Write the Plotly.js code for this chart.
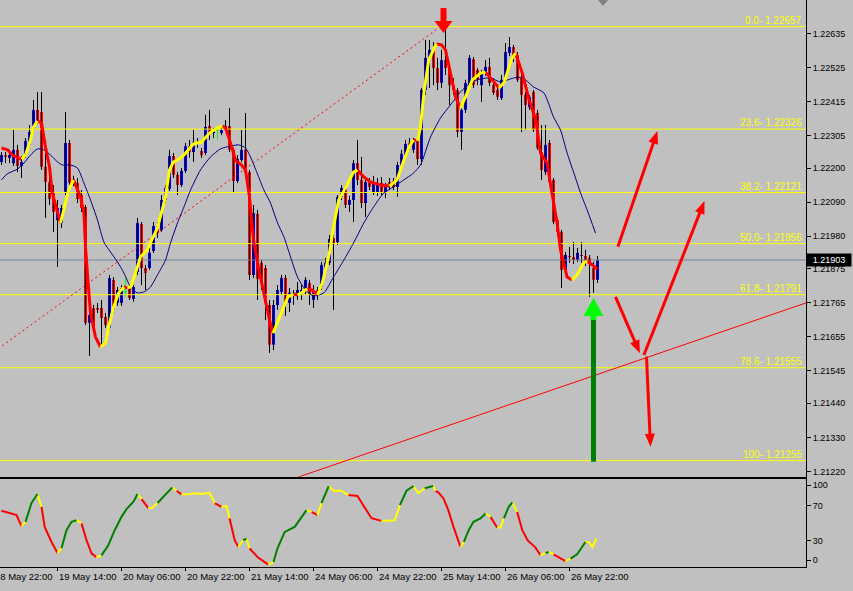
<!DOCTYPE html>
<html>
<head>
<meta charset="utf-8">
<script src="https://cdn.plot.ly/plotly-3.0.1.min.js"></script>
<style>
html,body{margin:0;padding:0;background:#c0c0c0;overflow:hidden;}
#chart{width:853px;height:591px;}
</style>
</head>
<body>
<div id="chart"></div>
<script>
// ---------- H1 candles (bar index 0 = 19 May 00:00) ----------
const open = [
1.22220,1.22242,1.22233,1.22216,1.22259,1.22207,1.22239,1.22275,1.22323,1.22388,
1.22381,1.22204,1.22155,1.22123,1.22032,1.22023,1.22123,1.22281,1.22165,1.22152,
1.22113,1.22074,1.21700,1.21748,1.21748,1.21748,1.21719,1.21684,1.21839,1.21764,
1.21764,1.21800,1.21813,1.21777,1.21864,1.22019,1.21877,1.21877,1.21932,1.22013,
1.22000,1.22097,1.22132,1.22239,1.22178,1.22145,1.22191,1.22271,1.22252,1.22284,
1.22255,1.22249,1.22336,1.22313,1.22323,1.22313,1.22330,1.22336,1.22259,1.22158,
1.22226,1.22259,1.22187,1.21855,1.22052,1.21894,1.21877,1.21758,1.21629,1.21758,
1.21800,1.21845,1.21764,1.21793,1.21793,1.21790,1.21806,1.21829,1.21774,1.21806,
1.21816,1.21871,1.21894,1.21974,1.21961,1.22107,1.22136,1.22081,1.22097,1.22216,
1.22162,1.22087,1.22155,1.22123,1.22123,1.22152,1.22120,1.22155,1.22158,1.22139,
1.22210,1.22242,1.22281,1.22259,1.22291,1.22229,1.22452,1.22556,1.22582,1.22523,
1.22475,1.22549,1.22523,1.22468,1.22452,1.22317,1.22388,1.22468,1.22552,1.22517,
1.22468,1.22507,1.22527,1.22468,1.22452,1.22426,1.22491,1.22572,1.22591,1.22565,
1.22491,1.22436,1.22397,1.22446,1.22378,1.22252,1.22187,1.22281,1.22162,1.22032,
1.21994,1.21871,1.21916,1.21913,1.21903,1.21919,1.21916,1.21910,1.21877,1.21839];
const high = [
1.22252,1.22252,1.22259,1.22323,1.22275,1.22239,1.22297,1.22339,1.22420,1.22446,
1.22446,1.22259,1.22178,1.22145,1.22097,1.22081,1.22381,1.22291,1.22175,1.22168,
1.22129,1.22081,1.21758,1.21758,1.21764,1.21774,1.21732,1.21855,1.21848,1.21816,
1.21822,1.21845,1.21822,1.21822,1.22039,1.22026,1.21887,1.21942,1.22026,1.22026,
1.22113,1.22145,1.22259,1.22249,1.22187,1.22200,1.22281,1.22291,1.22323,1.22297,
1.22265,1.22372,1.22388,1.22330,1.22333,1.22336,1.22355,1.22394,1.22265,1.22242,
1.22323,1.22378,1.22194,1.22081,1.22065,1.21903,1.21887,1.21774,1.21774,1.21822,
1.21855,1.21855,1.21813,1.21806,1.21832,1.21822,1.21848,1.21839,1.21822,1.21816,
1.21897,1.21910,1.21984,1.21994,1.22113,1.22145,1.22145,1.22110,1.22226,1.22291,
1.22236,1.22168,1.22168,1.22175,1.22168,1.22171,1.22152,1.22168,1.22168,1.22220,
1.22259,1.22291,1.22297,1.22297,1.22297,1.22459,1.22614,1.22614,1.22607,1.22556,
1.22582,1.22656,1.22533,1.22491,1.22459,1.22404,1.22485,1.22565,1.22559,1.22523,
1.22517,1.22549,1.22556,1.22491,1.22462,1.22501,1.22604,1.22623,1.22598,1.22575,
1.22501,1.22446,1.22436,1.22452,1.22388,1.22339,1.22339,1.22291,1.22168,1.22039,
1.22000,1.21929,1.21945,1.21961,1.21942,1.21961,1.21936,1.21919,1.21897,1.21916];
const low = [
1.22210,1.22216,1.22216,1.22207,1.22187,1.22168,1.22233,1.22268,1.22317,1.22343,
1.22194,1.22039,1.22081,1.21994,1.21881,1.22007,1.22113,1.22145,1.22142,1.22087,
1.22058,1.21693,1.21593,1.21677,1.21732,1.21622,1.21684,1.21677,1.21732,1.21755,
1.21755,1.21784,1.21774,1.21768,1.21855,1.21822,1.21806,1.21871,1.21926,1.21974,
1.21994,1.22087,1.22126,1.22168,1.22113,1.22139,1.22184,1.22233,1.22220,1.22265,
1.22233,1.22242,1.22291,1.22297,1.22291,1.22307,1.22320,1.22252,1.22123,1.22152,
1.22220,1.22178,1.21839,1.21845,1.21774,1.21806,1.21709,1.21603,1.21612,1.21742,
1.21790,1.21722,1.21735,1.21758,1.21774,1.21774,1.21790,1.21758,1.21748,1.21774,
1.21806,1.21864,1.21887,1.21742,1.21952,1.22097,1.22071,1.22058,1.22026,1.22145,
1.22071,1.22042,1.22129,1.22113,1.22110,1.22113,1.22103,1.22129,1.22129,1.22107,
1.22204,1.22236,1.22259,1.22249,1.22210,1.22210,1.22436,1.22459,1.22468,1.22452,
1.22459,1.22501,1.22404,1.22436,1.22300,1.22259,1.22378,1.22459,1.22459,1.22468,
1.22414,1.22498,1.22465,1.22436,1.22420,1.22420,1.22485,1.22562,1.22543,1.22478,
1.22317,1.22323,1.22388,1.22317,1.22259,1.22162,1.22178,1.22149,1.22019,1.21981,
1.21813,1.21855,1.21894,1.21890,1.21897,1.21894,1.21884,1.21784,1.21797,1.21829];
const close = [
1.22242,1.22236,1.22242,1.22259,1.22207,1.22220,1.22288,1.22317,1.22388,1.22352,
1.22204,1.22155,1.22100,1.22058,1.22071,1.22071,1.22281,1.22152,1.22152,1.22100,
1.22071,1.21700,1.21725,1.21687,1.21742,1.21716,1.21693,1.21845,1.21742,1.21806,
1.21813,1.21800,1.21780,1.21816,1.22023,1.21877,1.21861,1.21926,1.22013,1.21990,
1.22097,1.22136,1.22239,1.22178,1.22145,1.22191,1.22271,1.22252,1.22284,1.22278,
1.22242,1.22333,1.22313,1.22320,1.22323,1.22323,1.22336,1.22259,1.22158,1.22229,
1.22259,1.22187,1.21855,1.22055,1.21842,1.21829,1.21764,1.21629,1.21758,1.21806,
1.21845,1.21764,1.21797,1.21797,1.21806,1.21806,1.21839,1.21790,1.21800,1.21790,
1.21887,1.21894,1.21971,1.21958,1.22107,1.22136,1.22081,1.22097,1.22216,1.22162,
1.22087,1.22155,1.22139,1.22155,1.22152,1.22123,1.22139,1.22139,1.22139,1.22210,
1.22246,1.22278,1.22268,1.22284,1.22229,1.22452,1.22556,1.22582,1.22523,1.22475,
1.22549,1.22523,1.22468,1.22452,1.22317,1.22388,1.22475,1.22556,1.22468,1.22485,
1.22507,1.22527,1.22475,1.22443,1.22430,1.22485,1.22575,1.22591,1.22559,1.22485,
1.22436,1.22404,1.22430,1.22323,1.22265,1.22194,1.22275,1.22155,1.22026,1.21994,
1.21871,1.21919,1.21913,1.21903,1.21926,1.21916,1.21897,1.21894,1.21839,1.21903];

// ---------- fast smoothed MA (yellow up / red down) ----------
const maX = [
0,1.5,3,5,6,7.25,8,9,10,11,
12,12.7,13.75,14.75,15.75,16.8,18,19.75,20.6,21,
21.6,22.25,23.5,24.75,26,26.8,28,29.3,30.6,31.5,
32.25,33.5,34.75,36.4,37.25,39,41,42,43,44,
45.6,48,50,52,54,55.2,56,57.25,58.5,60,
61,62,63,64,65,66,67,67.9,69,70.5,
71.6,73,74,75,76.4,77.7,79,80.2,82,83,
84.3,86,88,89,90.6,92.25,94.75,97,98.9,100.6,
101.9,103,104,104.75,105.6,106.8,108.3,108.75,110,111,
112,113.5,114.75,116,117.7,119.75,121,122.7,124.4,125.7,
127.4,128.5,130.2,131.9,133.6,134.75,136.4,137.6,138.9,139.75,
141.4,142.6,143.9,145.6,146.4,147.7,149];
const maY = [
1.22265,1.22259,1.22239,1.22229,1.22242,1.22291,1.22333,1.22352,1.22346,1.22268,
1.22204,1.22120,1.22074,1.22023,1.22071,1.22129,1.22162,1.22107,1.22055,1.21945,
1.21839,1.21732,1.21654,1.21622,1.21635,1.21687,1.21751,1.21797,1.21816,1.21813,
1.21816,1.21861,1.21913,1.21936,1.21958,1.22007,1.22107,1.22194,1.22220,1.22226,
1.22242,1.22278,1.22284,1.22313,1.22330,1.22336,1.22330,1.22281,1.22226,1.22210,
1.22194,1.22107,1.21968,1.21894,1.21829,1.21764,1.21709,1.21667,1.21700,1.21751,
1.21784,1.21793,1.21790,1.21797,1.21810,1.21806,1.21790,1.21829,1.21926,1.22010,
1.22097,1.22136,1.22187,1.22194,1.22171,1.22155,1.22145,1.22142,1.22162,1.22226,
1.22268,1.22291,1.22288,1.22333,1.22443,1.22549,1.22591,1.22601,1.22598,1.22582,
1.22517,1.22430,1.22394,1.22430,1.22485,1.22507,1.22510,1.22485,1.22459,1.22478,
1.22549,1.22572,1.22507,1.22420,1.22355,1.22249,1.22216,1.22120,1.22023,1.21936,
1.21848,1.21839,1.21855,1.21894,1.21900,1.21887,1.21874];

// ---------- slow moving average (navy) ----------
const slowX = [
0,1.4,4,5.6,7.25,9,10.6,12.25,14,15.2,
17.25,19,20.6,22.25,24,25.6,27.25,29,30.6,32.25,
33.9,35.6,37.25,39,41,42.25,44,45.6,47.25,49.75,
52.25,54.75,57.25,59.3,61,62.25,63.9,65.6,67.25,69,
70.6,72.25,74,76,78,80.6,83,85.6,88,90.6,
93,95.6,98,100.6,103,104.75,107.25,109.75,112.25,114.75,
117.25,119.75,122.25,124.75,127.25,129.3,131,133,135.6,138,
139.75,141.4,143.1,144.75,146.4,148.5];
const slowY = [
1.22162,1.22181,1.22197,1.22216,1.22242,1.22262,1.22259,1.22242,1.22220,1.22210,
1.22210,1.22200,1.22152,1.22097,1.22032,1.21961,1.21929,1.21897,1.21861,1.21816,
1.21797,1.21800,1.21816,1.21855,1.21903,1.21958,1.22023,1.22074,1.22129,1.22194,
1.22236,1.22262,1.22271,1.22275,1.22265,1.22236,1.22184,1.22129,1.22087,1.22023,
1.21978,1.21913,1.21848,1.21806,1.21787,1.21797,1.21848,1.21903,1.21958,1.22023,
1.22074,1.22120,1.22139,1.22162,1.22184,1.22210,1.22300,1.22362,1.22404,1.22446,
1.22475,1.22488,1.22491,1.22478,1.22488,1.22494,1.22485,1.22462,1.22443,1.22365,
1.22323,1.22249,1.22184,1.22120,1.22065,1.21990];

// ---------- oscillator (0-100) ----------
const oscX = [
0,2.5,3.75,5,6,7.5,9,10,10.8,12.5,
14,15,16.25,17.5,18.75,20,21.25,22.5,23.75,25,
26.7,28.3,30,31.25,33,34,35,36.7,37.7,39,
40.8,42.7,43.75,45,46.7,48.3,50,52,53.3,55,
56.25,57,58.3,59.2,60.4,61.25,62,64,66.7,68,
69,70.8,73.3,76.25,77.5,79,80,81.8,83,85,
86.7,89,90.4,92.5,95,96.7,98.3,99.6,101.25,103,
104.2,105.8,107.9,108.5,109.3,110.5,111.7,113,113.9,114.75,
115.6,116.8,118,119.75,121,122.25,123.9,124.75,125.6,126.8,
127.7,128.9,130.2,131.5,133.5,134.75,136,136.8,138,139.75,
141,142.25,143.9,146,146.8,147.7,148.75];
const oscY = [
63.8,60.8,58.9,46.3,51.2,72.6,82.9,68.3,45.5,28.3,
15.8,21.1,41.7,51.2,53.1,49.7,30.3,15.4,10.9,13.1,
24.6,41.7,56.9,65.7,74.1,82.9,77.1,66.9,66.9,72.6,
81.7,90.5,86.6,82.5,82.5,83.7,82.9,84.3,72.6,68.3,
69.1,55.4,30.3,22.6,30.3,32.2,21.1,11.2,2.5,5.5,
21.1,39.8,45.5,64.6,62.6,58.9,72.6,92,86.6,86.6,
81.7,80.6,70.3,55.4,52.3,53.1,53.1,70.3,86.6,92,
83.7,89.4,92,86.6,84.3,77.9,64.6,45.5,34.1,22.6,
28.3,41.7,51.2,55.1,60.8,56.9,44.8,44.8,55.1,68.3,
73.4,62.6,41.7,30.3,21.9,13.1,15.8,16.9,14.3,9.4,
6.6,9.4,14.3,28.3,28.3,22.6,32.2];

// ---------- axis labels ----------
const priceTicks = [1.22635,1.22525,1.22415,1.22305,1.22200,1.22090,1.21980,1.21875,1.21765,1.21655,1.21545,1.21440,1.21330,1.21220];
const oscTickPos = [7.4,30,70,93];
const oscTickText = ['0','30','70','100'];
const timeTickBars = [-2,14,30,46,62,78,94,110,126,142];
const timeTickText = ['18 May 22:00','19 May 14:00','20 May 06:00','20 May 22:00','21 May 14:00','24 May 06:00','24 May 22:00','25 May 14:00','26 May 06:00','26 May 22:00'];

// ---------- drawn objects ----------
const fibLevels = ['0.0','23.6','38.2','50.0','61.8','78.6','100'];
const fibPrices = [1.22657,1.22326,1.22121,1.21956,1.21791,1.21555,1.21255];
const lastPrice = 1.21903;
const fibDiagX = [-39.2,109];
const fibDiagY = [1.21255,1.22650];
const trendX = [74,201.25];
const trendY = [1.21201,1.21765];
const arrowTails = [[154.1,1.21946],[160.6,1.21596],[153.5,1.21784],[161.25,1.21591]];
const arrowTips  = [[164,1.22320],[175.75,1.22094],[159.6,1.21602],[162.25,1.21300]];
const greenArrowX = 148.0;
const greenArrowBase = 1.21251;
const greenArrowTip = 1.21780;
const topArrowX = 110.5;
const topArrowTip = 1.22636;
const topArrowTail = 1.22717;

// ---------- geometry ----------
const xr = [-0.375, 201.125];
const yr = [1.21203, 1.22743];
const PW = 806, MH = 476.7, PH = 567;
const kx = PW/(xr[1]-xr[0]);
const ky = MH/(yr[1]-yr[0]);
const toPx = p => [(p[0]-xr[0])*kx, (yr[1]-p[1])*ky];
const toData = q => [q[0]/kx + xr[0], yr[1] - q[1]/ky];

function arrowParts(tail, tip, len, half, shaftFrac){
  const a = toPx(tail), b = toPx(tip);
  const dx=b[0]-a[0], dy=b[1]-a[1], L=Math.hypot(dx,dy);
  const ux=dx/L, uy=dy/L;
  const base=[b[0]-ux*len, b[1]-uy*len];
  const v1=[base[0]-uy*half, base[1]+ux*half];
  const v2=[base[0]+uy*half, base[1]-ux*half];
  const shaftEnd = toData([b[0]-ux*len*shaftFrac, b[1]-uy*len*shaftFrac]);
  const pts=[b,v1,v2].map(toData);
  return {shaftEnd, path:'M'+pts.map(p=>p[0]+','+p[1]).join(' L')+' Z'};
}

function colorRuns(xs, ys, colorOf){
  const groups = {};
  let cur = null, curC = null;
  const flush = () => { if(cur){ groups[curC] = groups[curC]||{x:[],y:[]}; groups[curC].x.push(...cur.x,null); groups[curC].y.push(...cur.y,null); } };
  for(let i=0;i<xs.length-1;i++){
    const c = colorOf(i);
    if(c !== curC){ flush(); cur = {x:[xs[i]], y:[ys[i]]}; curC = c; }
    cur.x.push(xs[i+1]); cur.y.push(ys[i+1]);
  }
  flush();
  return groups;
}

const FONT = 'Liberation Sans, Arial, sans-serif';
const traces = [];

// candles: wicks (black, dojis lime) then bodies
const idx = open.map((_, i) => i);
const normal = idx.filter(i => open[i] !== close[i]);
const doji = idx.filter(i => open[i] === close[i]);
const wx=[], wy=[];
normal.forEach(i => { wx.push(i, i, null); wy.push(low[i], high[i], null); });
traces.push({type:'scatter', mode:'lines', x:wx, y:wy, xaxis:'x', yaxis:'y', line:{color:'#000000', width:1}, hoverinfo:'skip'});
traces.push({type:'bar', x:normal, y:normal.map(i => Math.abs(close[i]-open[i])), base:normal.map(i => Math.min(open[i], close[i])),
  width:0.75, xaxis:'x', yaxis:'y', hoverinfo:'skip',
  marker:{color:normal.map(i => close[i] > open[i] ? '#0000ff' : '#ff0000'), line:{width:0}}});
const dx=[], dy=[];
doji.forEach(i => { dx.push(i, i, null, i-0.4, i+0.4, null); dy.push(low[i], high[i], null, open[i], open[i], null); });
traces.push({type:'scatter', mode:'lines', x:dx, y:dy, xaxis:'x', yaxis:'y', line:{color:'#00ff00', width:1}, hoverinfo:'skip'});

// fib horizontal lines, price line, fib diagonal
const fx=[], fy=[];
fibPrices.forEach(p => { fx.push(xr[0], xr[1], null); fy.push(p, p, null); });
traces.push({type:'scatter', mode:'lines', x:fx, y:fy, xaxis:'x', yaxis:'y', line:{color:'#ffff00', width:1}, hoverinfo:'skip'});
traces.push({type:'scatter', mode:'lines', x:xr, y:[lastPrice,lastPrice], xaxis:'x', yaxis:'y', line:{color:'#778899', width:1}, hoverinfo:'skip'});
traces.push({type:'scatter', mode:'lines', x:fibDiagX, y:fibDiagY, xaxis:'x', yaxis:'y', line:{color:'#ff0000', width:1, dash:'2px,3px'}, hoverinfo:'skip'});
// navy MA
traces.push({type:'scatter', mode:'lines', x:slowX, y:slowY, xaxis:'x', yaxis:'y', line:{color:'#000080', width:1, shape:'spline', smoothing:0.6}, hoverinfo:'skip'});
// fast MA colored
const maG = colorRuns(maX, maY, i => maY[i+1] > maY[i] ? '#ffff00' : '#ff0000');
Object.keys(maG).forEach(c => traces.push({type:'scatter', mode:'lines', x:maG[c].x, y:maG[c].y, xaxis:'x', yaxis:'y', line:{color:c, width:3}, hoverinfo:'skip'}));
// trendline
traces.push({type:'scatter', mode:'lines', x:trendX, y:trendY, xaxis:'x', yaxis:'y', line:{color:'#ff0000', width:1}, hoverinfo:'skip'});

// arrows
const shapes = [];
const sx=[], sy=[];
arrowTails.forEach((t, k) => {
  const ap = arrowParts(t, arrowTips[k], 13, 5, 0.6);
  sx.push(t[0], ap.shaftEnd[0], null); sy.push(t[1], ap.shaftEnd[1], null);
  shapes.push({type:'path', xref:'x', yref:'y', path:ap.path, fillcolor:'#ff0000', line:{width:0}, layer:'above'});
});
traces.push({type:'scatter', mode:'lines', x:sx, y:sy, xaxis:'x', yaxis:'y', line:{color:'#ff0000', width:3}, hoverinfo:'skip'});

// green arrow
const gHead = arrowParts([greenArrowX, greenArrowBase], [greenArrowX, greenArrowTip], 18, 10, 0.5);
const gTipPx = toPx([greenArrowX, greenArrowTip]);
const gTop = toData([gTipPx[0], gTipPx[1] + 22]);
const gNeck = toData([gTipPx[0], gTipPx[1] + 16]);
traces.push({type:'scatter', mode:'lines', x:[greenArrowX, greenArrowX], y:[greenArrowBase, gTop[1]], xaxis:'x', yaxis:'y', line:{color:'#008000', width:5}, hoverinfo:'skip'});
traces.push({type:'scatter', mode:'lines', x:[greenArrowX, greenArrowX], y:[gTop[1], gNeck[1]], xaxis:'x', yaxis:'y', line:{color:'#00ff00', width:6}, hoverinfo:'skip'});
shapes.push({type:'path', xref:'x', yref:'y', path:gHead.path, fillcolor:'#00ff00', line:{width:0}, layer:'above'});

// top red down arrow
const tHead = arrowParts([topArrowX, topArrowTail], [topArrowX, topArrowTip], 12, 9, 0.5);
traces.push({type:'scatter', mode:'lines', x:[topArrowX, topArrowX], y:[topArrowTail, tHead.shaftEnd[1]], xaxis:'x', yaxis:'y', line:{color:'#ff0000', width:6}, hoverinfo:'skip'});
shapes.push({type:'path', xref:'x', yref:'y', path:tHead.path, fillcolor:'#ff0000', line:{width:0}, layer:'above'});

// chart-shift marker
shapes.push({type:'path', xref:'paper', yref:'paper', path:`M${598/PW},1 L${608/PW},1 L${603/PW},${1-6/PH} Z`, fillcolor:'#808080', line:{width:0}});

// oscillator
const oscDir = oscX.slice(0,-1).map((_, i) => Math.sign(oscY[i+1]-oscY[i]));
const oscG = colorRuns(oscX, oscY, i => {
  const d = oscDir[i];
  if(d === 0 || (i > 0 && d !== oscDir[i-1])) return '#ffff00';
  return d > 0 ? '#008000' : '#ff0000';
});
Object.keys(oscG).forEach(c => traces.push({type:'scatter', mode:'lines', x:oscG[c].x, y:oscG[c].y, xaxis:'x2', yaxis:'y2', line:{color:c, width:2}, hoverinfo:'skip'}));

// annotations
const annotations = [];
fibLevels.forEach((lv, k) => annotations.push({xref:'paper', yref:'y', x:803/PW, y:fibPrices[k], xanchor:'right', yanchor:'bottom',
  text: lv + '- ' + fibPrices[k].toFixed(5), showarrow:false, borderpad:0, font:{family:FONT, size:10, color:'#ffff00'}}));
timeTickBars.forEach((b, k) => annotations.push({xref:'paper', yref:'paper', x:(b-xr[0])*kx/PW, y:-10/PH, xanchor:'left', yanchor:'middle',
  text: timeTickText[k], showarrow:false, borderpad:0, font:{family:FONT, size:9.5, color:'#000'}}));
annotations.push({xref:'paper', yref:'y', x:1, y:lastPrice, xanchor:'left', yanchor:'middle', text:lastPrice.toFixed(5), showarrow:false,
  bgcolor:'#000000', borderpad:1, width:42, align:'center', font:{family:FONT, size:9, color:'#ffffff'}});

const layout = {
  width:853, height:591,
  margin:{l:0, r:47, t:0, b:24, pad:0},
  paper_bgcolor:'#c0c0c0', plot_bgcolor:'#c0c0c0',
  showlegend:false, barmode:'overlay',
  font:{family:FONT, size:9, color:'#000'},
  xaxis:{domain:[0,1], range:xr, anchor:'y', showgrid:false, zeroline:false, showticklabels:false, ticks:'',
    showline:true, linecolor:'#000', linewidth:1, fixedrange:true},
  yaxis:{domain:[(PH-MH)/PH, 1], range:yr, anchor:'x', side:'right', showgrid:false, zeroline:false,
    tickvals:priceTicks, ticktext:priceTicks.map(v => v.toFixed(5)), ticks:'outside', ticklen:4, tickcolor:'#000',
    showline:true, linecolor:'#000', linewidth:1, tickfont:{family:FONT, size:9, color:'#000'}, fixedrange:true},
  xaxis2:{domain:[0,1], range:xr, anchor:'y2', showgrid:false, zeroline:false, showticklabels:false,
    tickvals:timeTickBars, ticks:'outside', ticklen:3, tickcolor:'#000', showline:true, mirror:true, linecolor:'#000', linewidth:1, fixedrange:true},
  yaxis2:{domain:[0, (PH-479)/PH], range:[-0.2,100], anchor:'x2', side:'right', showgrid:false, zeroline:false,
    tickvals:oscTickPos, ticktext:oscTickText, ticks:'outside', ticklen:4, tickcolor:'#000',
    showline:true, linecolor:'#000', linewidth:1, tickfont:{family:FONT, size:9, color:'#000'}, fixedrange:true},
  shapes, annotations
};

Plotly.newPlot('chart', traces, layout, {staticPlot:true, displayModeBar:false});
</script>
</body>
</html>
